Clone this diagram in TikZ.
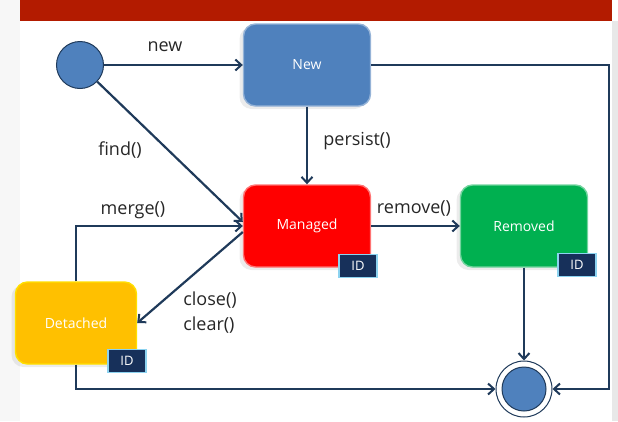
\documentclass[tikz,border=0pt]{standalone}
\usepackage{fontspec}
\setmainfont{Open Sans}
\usetikzlibrary{arrows.meta,shadows}

\definecolor{barred}{HTML}{B31B00}
\definecolor{stateblue}{HTML}{4F81BD}
\definecolor{linenavy}{HTML}{1F3A5A}
\definecolor{mgdred}{HTML}{FF0000}
\definecolor{remgreen}{HTML}{00B050}
\definecolor{detyellow}{HTML}{FFC000}
\definecolor{idnavy}{HTML}{17305A}
\definecolor{idglow}{HTML}{8DD3F0}

\tikzset{
  state/.style={rectangle, rounded corners=12pt, minimum width=127pt,
    minimum height=82pt, line width=1.4pt, text=white,
    font=\fontsize{14}{16}\selectfont,
    drop shadow={shadow xshift=-4pt, shadow yshift=-3pt, opacity=0.15}},
  idbox/.style={rectangle, fill=idnavy, draw=idglow, line width=1.3pt,
    minimum width=38pt, minimum height=23pt, inner sep=0pt, text=white,
    font=\fontsize{13}{15}\selectfont},
  flow/.style={draw=linenavy, line width=2.2pt,
    -{Straight Barb[length=6pt,width=11pt,line width=2pt]}},
  lbl/.style={font=\fontsize{18}{25}\selectfont, text=black!85, align=left}
}

\begin{document}
\begin{tikzpicture}[x=1pt,y=-1pt]
  \useasboundingbox (0,0) rectangle (618,421);
  \fill[gray!6] (0,0) rectangle (20,421);
  \fill[gray!18] (612,21) rectangle (618,421);
  \fill[barred] (20,0) rectangle (612,21);

  % states
  \node[circle, minimum size=47pt, fill=stateblue, draw=linenavy, line width=1pt] (init) at (80,65) {};
  \node[state, fill=stateblue, draw=stateblue!60!white] (new) at (307,65) {New};
  \node[state, fill=mgdred, draw=mgdred!55!white] (managed) at (307,226) {Managed};
  \node[state, fill=remgreen, draw=remgreen!55!white] (removed) at (524,226) {Removed};
  \node[state, fill=detyellow, draw=detyellow!50!yellow, minimum width=121pt] (detached) at (76,323) {Detached};
  \node[circle, minimum size=56pt, fill=white, draw=linenavy, line width=1pt] (final) at (524,389) {};
  \filldraw[fill=stateblue, draw=linenavy, line width=1pt] (final.center) circle (22pt);

  \node[idbox] (idm) at (358,266) {ID};
  \node[idbox] (idr) at (577,265) {ID};
  \node[idbox] (idd) at (127,361) {ID};

  \coordinate (rc) at (609,389);

  % transitions
  \draw[flow] (init) -- (new);
  \draw[flow] (init) -- ([yshift=4pt]managed.west);
  \draw[flow] (new) -- (managed);
  \draw[flow] (new.east) -| (rc) -- (final);
  \draw[flow] (managed) -- (removed);
  \draw[flow] (removed) -- (final);
  \draw[flow] (detached.north) |- (managed.west);
  \draw[flow] ([yshift=-6pt]managed.west) -- (detached.east);
  \draw[flow] (detached.south) |- (final);

  \node[lbl] (lnew) at (165,47) {new};
  \node[lbl] (lfind) at (120,150) {find()};
  \node[lbl] (lpersist) at (357,141) {persist()};
  \node[lbl] (lremove) at (414,208) {remove()};
  \node[lbl] (lmerge) at (133,210) {merge()};
  \node[lbl] (lclose) at (210,313) {close()\\clear()};
\end{tikzpicture}
\end{document}
